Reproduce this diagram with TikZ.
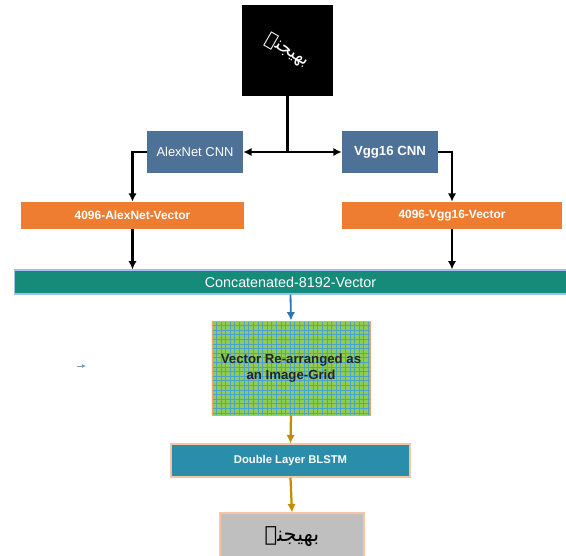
\documentclass[tikz,border=0pt]{standalone}
\usepackage{fontspec}
\setmainfont{Liberation Sans}
\newfontfamily\arabicfont[Script=Arabic]{DejaVu Sans}
\TeXXeTstate=1
\usetikzlibrary{arrows.meta, positioning}

\definecolor{cnnblue}{HTML}{4E7198}
\definecolor{vecorange}{HTML}{EE7D32}
\definecolor{concatteal}{HTML}{168B7A}
\definecolor{concatedge}{HTML}{9DC3E6}
\definecolor{gridgreen}{HTML}{8FCB55}
\definecolor{gridline}{HTML}{4AA3C8}
\definecolor{gridedge}{HTML}{E3A86A}
\definecolor{lstmteal}{HTML}{2A8DA9}
\definecolor{paleedge}{HTML}{F6C5A6}
\definecolor{outgray}{HTML}{BFBFBF}
\definecolor{goldarrow}{HTML}{BF8F00}
\definecolor{bluearrow}{HTML}{2E75B6}

\tikzset{
  cnnbox/.style={fill=cnnblue, text=white, minimum width=2.4cm, minimum height=1.05cm, font=\fontsize{9.2}{11}\selectfont},
  vecbox/.style={fill=vecorange, text=white, minimum height=0.675cm, font=\fontsize{8.5}{10}\selectfont\bfseries},
  link/.style={-{Latex[length=6pt, width=6pt]}, line width=1.6pt},
  goldlink/.style={-{Latex[length=6pt, width=6pt]}, line width=1.6pt, goldarrow},
}

\begin{document}
\begin{tikzpicture}[x=0.025cm, y=-0.025cm]
\useasboundingbox (0,0) rectangle (566,555);

% Input image
\node[fill=black, minimum size=2.275cm, inner sep=0pt] (img) at (287.5,50.5)
  {\rotatebox{-30}{\color{white}\fontsize{13}{15}\arabicfont\beginR بھیجنے\endR}};

% Feature extractors
\node[cnnbox] (alex) at (195,152) {AlexNet CNN};
\node[cnnbox, font=\fontsize{9.4}{11}\selectfont\bfseries] (vgg) at (390,152) {Vgg16 CNN};

% Feature vectors
\node[vecbox, minimum width=5.575cm] (alexvec) at (132.5,215.5) {4096-AlexNet-Vector};
\node[vecbox, minimum width=5.5cm] (vggvec) at (452,215.5) {4096-Vgg16-Vector};

% Concatenation
\node[fill=concatteal, draw=concatedge, line width=0.8pt, text=white,
  minimum width=13.775cm, minimum height=0.6cm, font=\fontsize{10.2}{12}\selectfont] (concat) at (290.5,282)
  {Concatenated-8192-Vector};

% Image grid
\node[fill=gridgreen, draw=gridedge, line width=0.6pt, align=center,
  minimum width=3.95cm, minimum height=2.35cm, text=black!85,
  font=\fontsize{9.4}{11.5}\selectfont\bfseries,
  path picture={
    \foreach \k in {0,...,34}
      \draw[gridline, line width=0.7pt] ([xshift=\k*0.115cm]path picture bounding box.north west)
        -- ([xshift=\k*0.115cm]path picture bounding box.south west);
    \foreach \k in {0,...,20}
      \draw[gridline, line width=0.7pt] ([yshift=-\k*0.115cm]path picture bounding box.north west)
        -- ([yshift=-\k*0.115cm]path picture bounding box.north east);
  }] (grid) at (291,368) {Vector Re-arranged as\\an Image-Grid};

% Recogniser
\node[fill=lstmteal, draw=paleedge, line width=0.8pt, text=white,
  minimum width=5.975cm, minimum height=0.825cm, font=\fontsize{8}{10}\selectfont\bfseries] (blstm) at (290.5,460.5)
  {Double Layer BLSTM};

% Output word
\node[fill=outgray, draw=paleedge, line width=0.8pt, minimum width=3.6cm, minimum height=1.2cm,
  font=\fontsize{15}{17}\arabicfont] (out) at (292,537) {\beginR بھیجنے\endR};

% Connectors
\coordinate (split) at (img.south |- alex.east);
\draw[line width=1.6pt] (img.south) -- (split);
\draw[link] (split) -- (alex.east);
\draw[link] (split) -- (vgg.west);
\draw[link] (alex.west) -| (alexvec.north);
\draw[link] (vgg.east) -| (vggvec.north);
\draw[link] (alexvec.south) -- (alexvec.south |- concat.north);
\draw[link] (vggvec.south) -- (vggvec.south |- concat.north);
\draw[-{Latex[length=6pt, width=6pt]}, line width=1.3pt, bluearrow] (concat.south) -- (grid.north);
\draw[goldlink] (grid.south) -- (blstm.north);
\draw[goldlink] (blstm.south) -- (out.north);

% Stray mark
\coordinate (stray a) at (77,366);
\coordinate (stray b) at (86,366);
\draw[-{Latex[length=3pt, width=3pt]}, line width=0.6pt, bluearrow!70] (stray a) -- (stray b);

\end{tikzpicture}
\end{document}
